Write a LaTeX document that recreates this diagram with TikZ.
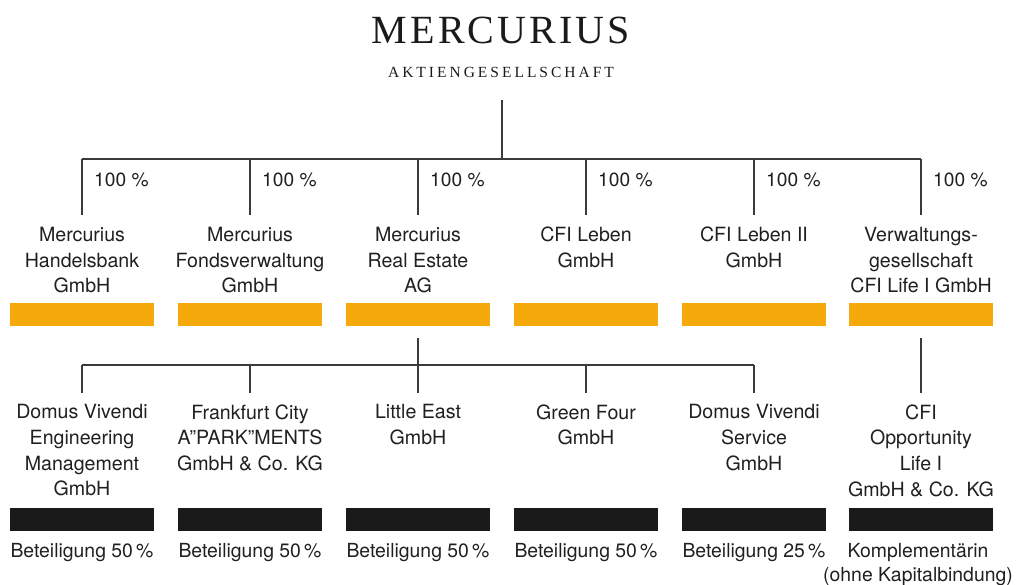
\documentclass[tikz,border=0pt]{standalone}
\usepackage{fontspec}
\setmainfont{TeX Gyre Heros}
\newfontfamily\titlefont{Liberation Serif}
\definecolor{orng}{HTML}{F5A90A}
\definecolor{ink}{HTML}{202020}
\definecolor{linec}{HTML}{3A3A3A}
\definecolor{barblk}{HTML}{1A1A1A}
\def\tk{\kern3.1pt}
\def\sk{\kern3.0pt}
\begin{document}
\begin{tikzpicture}[x=1pt,y=-1pt,
  conn/.style={draw=linec,line width=1.1pt},
  cname/.style={font=\fontsize{19.6}{25.6}\selectfont,text=ink,align=center,anchor=north,inner sep=0pt},
  pct/.style={font=\fontsize{19.2}{22}\selectfont,text=ink,anchor=base west,inner sep=0pt},
  note/.style={font=\fontsize{19.4}{24}\selectfont,text=ink,align=center,anchor=north,inner sep=0pt},
  obar/.style={fill=orng,draw=none,minimum width=144pt,minimum height=23pt,inner sep=0pt,anchor=north},
  kbar/.style={fill=barblk,draw=none,minimum width=144pt,minimum height=23pt,inner sep=0pt,anchor=north}]
\useasboundingbox (0,0) rectangle (1017,585);
% title
\node[font=\titlefont\fontsize{40}{42}\selectfont,text=barblk,anchor=base,inner sep=0pt] (title) at (501,44)
  {M\tk E\tk R\tk C\tk U\tk R\tk I\tk U\tk S};
\node[font=\titlefont\fontsize{15.5}{17}\selectfont,text=barblk,anchor=base,inner sep=0pt] (sub) at (501,78)
  {A\sk K\sk T\sk I\sk E\sk N\sk G\sk E\sk S\sk E\sk L\sk L\sk S\sk C\sk H\sk A\sk F\sk T};
% top level companies
\node[cname] (c1) at (82,227)  {Mercurius\\Handelsbank\\GmbH};
\node[cname] (c2) at (250,227) {Mercurius\\Fondsverwaltung\\GmbH};
\node[cname] (c3) at (418,227) {Mercurius\\Real Estate\\AG};
\node[cname] (c4) at (586,227) {CFI Leben\\GmbH};
\node[cname] (c5) at (754,227) {CFI Leben II\\GmbH};
\node[cname] (c6) at (921,227) {Verwaltungs-\\gesellschaft\\CFI Life I GmbH};
% percentages
\node[pct] (p1) at (94,187)  {100 \%};
\node[pct] (p2) at (262,187) {100 \%};
\node[pct] (p3) at (430,187) {100 \%};
\node[pct] (p4) at (598,187) {100 \%};
\node[pct] (p5) at (766,187) {100 \%};
\node[pct] (p6) at (933,187) {100 \%};
% orange bars
\node[obar] (b1) at (82,303)  {};
\node[obar] (b2) at (250,303) {};
\node[obar] (b3) at (418,303) {};
\node[obar] (b4) at (586,303) {};
\node[obar] (b5) at (754,303) {};
\node[obar] (b6) at (921,303) {};
% lower companies
\node[cname] (d1) at (82,404.5)  {Domus Vivendi\\Engineering\\Management\\GmbH};
\node[cname] (d2) at (250,404.5) {Frankfurt City\\A”PARK”MENTS\\GmbH \& Co. KG};
\node[cname] (d3) at (418,404.5) {Little East\\GmbH};
\node[cname] (d4) at (586,404.5) {Green Four\\GmbH};
\node[cname] (d5) at (754,404.5) {Domus Vivendi\\Service\\GmbH};
\node[cname] (d6) at (921,404.5) {CFI\\Opportunity\\Life I\\GmbH \& Co. KG};
% black bars
\node[kbar] (e1) at (82,508)  {};
\node[kbar] (e2) at (250,508) {};
\node[kbar] (e3) at (418,508) {};
\node[kbar] (e4) at (586,508) {};
\node[kbar] (e5) at (754,508) {};
\node[kbar] (e6) at (921,508) {};
% notes
\node[note] (l1) at (82,543)  {Beteiligung 50\,\%};
\node[note] (l2) at (250,543) {Beteiligung 50\,\%};
\node[note] (l3) at (418,543) {Beteiligung 50\,\%};
\node[note] (l4) at (586,543) {Beteiligung 50\,\%};
\node[note] (l5) at (754,543) {Beteiligung 25\,\%};
\node[note] (l6) at (918,543) {Komplementärin\\(ohne Kapitalbindung)};
% connector coordinates
\coordinate (t0) at (502,100);
\coordinate (t1) at (502,159);
\foreach \i/\x in {1/82,2/250,3/418,4/586,5/754,6/921}{
  \coordinate (u\i) at (\x,159);
  \coordinate (v\i) at (\x,215);
}
\coordinate (r0) at (418,338);
\coordinate (r1) at (418,365);
\foreach \i/\x in {1/82,2/250,3/418,4/586,5/754}{
  \coordinate (w\i) at (\x,365);
  \coordinate (z\i) at (\x,393);
}
\coordinate (q0) at (921,338);
\coordinate (q1) at (921,393);
% connectors
\draw[conn] (t0) -- (t1);
\draw[conn] (u1) -- (u6);
\foreach \i in {1,...,6}{\draw[conn] (u\i) -- (v\i);}
\draw[conn] (r0) -- (r1);
\draw[conn] (w1) -- (w5);
\foreach \i in {1,...,5}{\draw[conn] (w\i) -- (z\i);}
\draw[conn] (q0) -- (q1);
\end{tikzpicture}
\end{document}
